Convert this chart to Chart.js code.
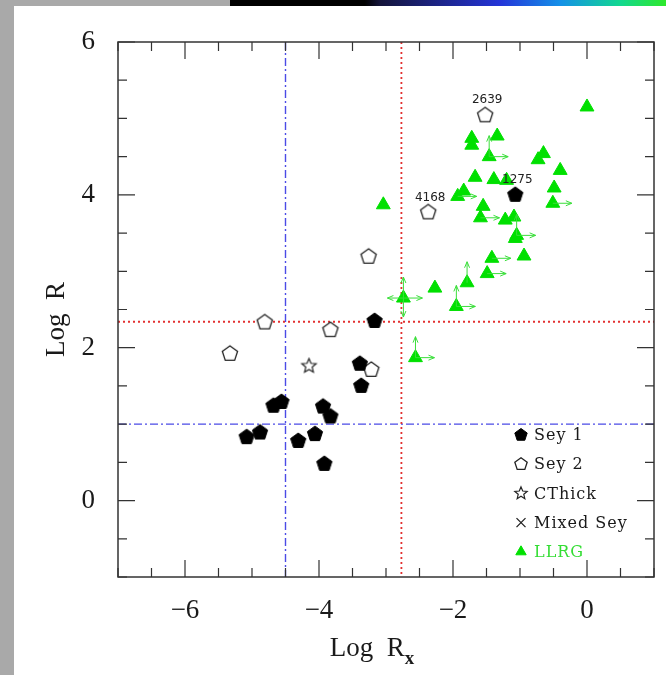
<!DOCTYPE html>
<html>
<head>
<meta charset="utf-8">
<script src="https://cdn.jsdelivr.net/npm/chart.js@4.4.1/dist/chart.umd.min.js"></script>
<style>
  html, body { margin: 0; padding: 0; }
  body { width: 666px; height: 675px; position: relative; overflow: hidden; background: #a9a9a9; }
  #bar { position: absolute; left: 230px; top: 0; width: 436px; height: 6px;
         background: linear-gradient(to right, #000 0px, #000 135px, #14143a 150px, #2435d8 270px, #1490e8 330px, #12d890 390px, #2ee82a 436px); }
  #panel { position: absolute; left: 14px; top: 6px; width: 652px; height: 669px; background: #fff; }
  #wrap { position: absolute; left: 0; top: 0; width: 666px; height: 675px; }
</style>
</head>
<body>
<div id="bar"></div>
<div id="panel"></div>
<div id="wrap"><canvas id="c" width="666" height="675"></canvas></div>
<script>
// ---- data: log R_x (x) and log R (y) ----
const sey1X = [-1.07, -3.17, -3.39, -3.37, -4.68, -4.56, -3.94, -3.83, -5.08, -4.88, -4.31, -4.06, -3.92];
const sey1Y = [ 4.00,  2.35,  1.79,  1.50,  1.24,  1.29,  1.23,  1.10,  0.83,  0.89,  0.78,  0.87,  0.48];
const sey1Names = ['1275', '', '', '', '', '', '', '', '', '', '', '', ''];

const sey2X = [-1.52, -2.37, -3.26, -4.81, -3.83, -5.33, -3.22];
const sey2Y = [ 5.04,  3.77,  3.19,  2.33,  2.23,  1.92,  1.71];
const sey2Names = ['2639', '4168', '', '', '', '', ''];

const cthickX = [-4.15];
const cthickY = [1.76];

const mixedX = [];
const mixedY = [];

const llrgX = [0.00, -1.72, -1.72, -1.34, -1.46, -0.65, -0.73, -0.40, -1.67, -1.39,
               -1.20, -1.84, -1.93, -0.49, -0.51, -1.55, -1.59, -1.22, -1.09, -1.05,
               -1.07, -1.42, -0.94, -1.49, -1.79, -2.27, -2.74, -1.95, -2.56, -3.04];
const llrgY = [5.15, 4.74, 4.65, 4.77, 4.50, 4.54, 4.46, 4.32, 4.23, 4.20,
               4.19, 4.05, 3.98, 4.09, 3.89, 3.85, 3.70, 3.67, 3.71, 3.47,
               3.43, 3.17, 3.20, 2.97, 2.85, 2.78, 2.65, 2.54, 1.87, 3.87];
// limit arrows per LLRG source: r = right, l = left, u = up, d = down
const llrgLimits = ['', '', '', '', 'ru', '', '', '', '', '',
                    '', '', 'r', '', 'r', '', 'r', '', '', 'ru',
                    '', 'r', '', 'r', 'u', '', 'lrud', 'ru', 'ru', ''];

// dividing lines
const blueCutX = -4.5, blueCutY = 1.0;
const redCutX = -2.77, redCutY = 2.34;

// axis ranges and labelled ticks
const xRange = [-7, 1], yRange = [-1, 6];
const xMajor = [-6, -4, -2, 0];
const yMajor = [0, 2, 4, 6];
const seriesNames = ['Sey 1', 'Sey 2', 'CThick', 'Mixed Sey', 'LLRG'];

// ---- marker shapes ----
const GREEN = '#00e000';
function fmt(v) { return v < 0 ? '\u2212' + Math.abs(v) : String(v); }
function pentagonPath(ctx, x, y, r) {
  ctx.beginPath();
  for (let i = 0; i < 5; i++) {
    const a = -Math.PI / 2 + i * 2 * Math.PI / 5;
    const px = x + r * Math.cos(a), py = y + r * Math.sin(a);
    if (i) ctx.lineTo(px, py); else ctx.moveTo(px, py);
  }
  ctx.closePath();
}
function starPath(ctx, x, y, r) {
  ctx.beginPath();
  for (let i = 0; i < 10; i++) {
    const a = -Math.PI / 2 + i * Math.PI / 5;
    const rr = i % 2 ? r * 0.45 : r;
    const px = x + rr * Math.cos(a), py = y + rr * Math.sin(a);
    if (i) ctx.lineTo(px, py); else ctx.moveTo(px, py);
  }
  ctx.closePath();
}
const shapes = {
  sey1(ctx, x, y, r) { pentagonPath(ctx, x, y, r); ctx.fillStyle = '#000'; ctx.fill(); ctx.lineWidth = 1; ctx.strokeStyle = '#000'; ctx.stroke(); },
  sey2(ctx, x, y, r) { pentagonPath(ctx, x, y, r); ctx.fillStyle = '#fff'; ctx.fill(); ctx.lineWidth = 1.3; ctx.strokeStyle = '#222'; ctx.stroke(); },
  star(ctx, x, y, r) { starPath(ctx, x, y, r); ctx.fillStyle = '#fff'; ctx.fill(); ctx.lineWidth = 1.2; ctx.strokeStyle = '#222'; ctx.stroke(); },
  cross(ctx, x, y, r) { ctx.beginPath(); ctx.moveTo(x - r, y - r); ctx.lineTo(x + r, y + r); ctx.moveTo(x + r, y - r); ctx.lineTo(x - r, y + r); ctx.lineWidth = 1.3; ctx.strokeStyle = '#222'; ctx.stroke(); },
  tri(ctx, x, y, r) { ctx.beginPath(); for (let i = 0; i < 3; i++) { const a = -Math.PI / 2 + i * 2 * Math.PI / 3; const px = x + r * Math.cos(a), py = y + r * Math.sin(a); if (i) ctx.lineTo(px, py); else ctx.moveTo(px, py); } ctx.closePath(); ctx.fillStyle = GREEN; ctx.fill(); ctx.lineWidth = 1; ctx.strokeStyle = GREEN; ctx.stroke(); }
};
function markerImage(shape, r) {
  const size = Math.ceil(r * 2 + 4);
  const c = document.createElement('canvas');
  c.width = c.height = size;
  shapes[shape](c.getContext('2d'), size / 2, size / 2, r);
  return c;
}
const pts = (xs, ys) => xs.map((x, i) => ({ x, y: ys[i] }));

// ---- plugins ----
const cutLines = {
  id: 'cutLines',
  beforeDatasetsDraw(chart) {
    const { ctx, chartArea: a, scales: { x, y } } = chart;
    ctx.save();
    ctx.beginPath(); ctx.rect(a.left, a.top, a.width, a.height); ctx.clip();
    const seg = (x1, y1, x2, y2) => { ctx.beginPath(); ctx.moveTo(x1, y1); ctx.lineTo(x2, y2); ctx.stroke(); };
    ctx.lineWidth = 1.4;
    ctx.strokeStyle = '#4b4be6'; ctx.setLineDash([8, 3, 2, 3]);
    const bx = x.getPixelForValue(blueCutX), by = y.getPixelForValue(blueCutY);
    seg(bx, a.top, bx, a.bottom); seg(a.left, by, a.right, by);
    ctx.strokeStyle = '#e23030'; ctx.setLineDash([2, 3]); ctx.lineWidth = 1.8;
    const rx = x.getPixelForValue(redCutX), ry = y.getPixelForValue(redCutY);
    seg(rx, a.top, rx, a.bottom); seg(a.left, ry, a.right, ry);
    ctx.restore();
  }
};

const limitArrows = {
  id: 'limitArrows',
  afterDatasetsDraw(chart) {
    const { ctx, scales: { x, y } } = chart;
    ctx.save();
    ctx.strokeStyle = '#3ade3a'; ctx.lineWidth = 1;
    const dirs = { r: [1, 0, 19], l: [-1, 0, 16], u: [0, -1, 21], d: [0, 1, 19] };
    llrgLimits.forEach((lim, i) => {
      const px = x.getPixelForValue(llrgX[i]), py = y.getPixelForValue(llrgY[i]);
      for (const ch of lim) {
        const [dx, dy, len] = dirs[ch];
        const ex = px + dx * len, ey = py + dy * len;
        ctx.beginPath(); ctx.moveTo(px, py); ctx.lineTo(ex, ey);
        // open chevron head
        const hx = -dx * 6, hy = -dy * 6, nx = -dy * 2.5, ny = dx * 2.5;
        ctx.moveTo(ex + hx + nx, ey + hy + ny); ctx.lineTo(ex, ey); ctx.lineTo(ex + hx - nx, ey + hy - ny);
        ctx.stroke();
      }
    });
    ctx.restore();
  }
};

const frameAndText = {
  id: 'frameAndText',
  afterDraw(chart) {
    const { ctx, chartArea: a, scales: { x, y } } = chart;
    ctx.save();
    // inward ticks on all four sides
    ctx.strokeStyle = '#333'; ctx.lineWidth = 1.2;
    x.ticks.forEach(t => {
      const px = x.getPixelForValue(t.value);
      const len = xMajor.includes(t.value) ? 17 : 9;
      ctx.beginPath();
      ctx.moveTo(px, a.bottom); ctx.lineTo(px, a.bottom - len);
      ctx.moveTo(px, a.top); ctx.lineTo(px, a.top + len);
      ctx.stroke();
    });
    y.ticks.forEach(t => {
      const py = y.getPixelForValue(t.value);
      const len = yMajor.includes(t.value) ? 17 : 9;
      ctx.beginPath();
      ctx.moveTo(a.left, py); ctx.lineTo(a.left + len, py);
      ctx.moveTo(a.right, py); ctx.lineTo(a.right - len, py);
      ctx.stroke();
    });
    ctx.lineWidth = 1.5; ctx.strokeStyle = '#333';
    ctx.strokeRect(a.left, a.top, a.width, a.height);

    // source names above markers
    ctx.fillStyle = '#222'; ctx.font = '12px "DejaVu Sans"';
    ctx.textAlign = 'center'; ctx.textBaseline = 'middle';
    const named = [[sey1X, sey1Y, sey1Names], [sey2X, sey2Y, sey2Names]];
    named.forEach(([xs, ys, ns]) => ns.forEach((n, i) => {
      if (!n) return;
      ctx.fillText(n, x.getPixelForValue(xs[i]) + 2, y.getPixelForValue(ys[i]) - 15);
    }));

    // legend in the lower right corner of the plot
    const legendShapes = ['sey1', 'sey2', 'star', 'cross', 'tri'];
    const legendSizes = [6.5, 6.5, 6.5, 4.5, 6];
    ctx.font = '16px "DejaVu Serif"'; ctx.textAlign = 'left';
    try { ctx.letterSpacing = '1px'; } catch (e) {}
    chart.data.datasets.forEach((ds, i) => {
      const ly = 435 + i * 29.2;
      shapes[legendShapes[i]](ctx, 521, ly, legendSizes[i]);
      ctx.fillStyle = i === 4 ? '#33dd33' : '#1a1a1a';
      ctx.fillText(ds.label, 534, ly + 1);
    });
    try { ctx.letterSpacing = '0px'; } catch (e) {}

    // axis titles
    ctx.fillStyle = '#1a1a1a';
    ctx.font = '27px "Liberation Serif"';
    ctx.textAlign = 'center'; ctx.textBaseline = 'alphabetic';
    const cx = (a.left + a.right) / 2 - 14;
    const main = 'Log  R';
    const wMain = ctx.measureText(main).width;
    ctx.font = 'bold 19px "Liberation Serif"';
    const wSub = ctx.measureText('x').width;
    const x0 = cx - (wMain + wSub) / 2;
    ctx.font = '27px "Liberation Serif"'; ctx.textAlign = 'left';
    ctx.fillText(main, x0, 656);
    ctx.font = 'bold 19px "Liberation Serif"';
    ctx.fillText('x', x0 + wMain, 664);

    ctx.save();
    ctx.translate(64, (a.top + a.bottom) / 2 + 10);
    ctx.rotate(-Math.PI / 2);
    ctx.font = '27px "Liberation Serif"'; ctx.textAlign = 'center';
    ctx.fillText('Log  R', 0, 0);
    ctx.restore();
    ctx.restore();
  }
};

// ---- chart ----
new Chart(document.getElementById('c'), {
  type: 'scatter',
  data: {
    datasets: [
      { label: seriesNames[0], data: pts(sey1X, sey1Y), pointStyle: markerImage('sey1', 8), pointRadius: 8 },
      { label: seriesNames[1], data: pts(sey2X, sey2Y), pointStyle: markerImage('sey2', 8), pointRadius: 8 },
      { label: seriesNames[2], data: pts(cthickX, cthickY), pointStyle: markerImage('star', 7.5), pointRadius: 8 },
      { label: seriesNames[3], data: pts(mixedX, mixedY), pointStyle: 'crossRot', pointRadius: 6, borderColor: '#222' },
      { label: seriesNames[4], data: pts(llrgX, llrgY), pointStyle: 'triangle', pointRadius: 8,
        backgroundColor: GREEN, borderColor: GREEN, borderWidth: 1 }
    ]
  },
  options: {
    responsive: false,
    animation: false,
    events: [],
    layout: { padding: { left: 0, right: 12, top: 42, bottom: 0 } },
    plugins: { legend: { display: false }, tooltip: { enabled: false } },
    scales: {
      x: {
        type: 'linear', min: xRange[0], max: xRange[1],
        afterFit(s) { s.height = 98; },
        grid: { display: false }, border: { display: false },
        ticks: {
          stepSize: 0.5, autoSkip: false, maxRotation: 0, padding: 10,
          color: '#1a1a1a', font: { family: 'Liberation Serif', size: 27 },
          callback: v => xMajor.includes(v) ? fmt(v) : ''
        }
      },
      y: {
        type: 'linear', min: yRange[0], max: yRange[1],
        afterFit(s) { s.width = 118; },
        grid: { display: false }, border: { display: false },
        ticks: {
          stepSize: 0.5, autoSkip: false, padding: 15,
          color: '#1a1a1a', font: { family: 'Liberation Serif', size: 27 },
          callback: v => yMajor.includes(v) ? fmt(v) : ''
        }
      }
    }
  },
  plugins: [cutLines, limitArrows, frameAndText]
});
</script>
</body>
</html>
